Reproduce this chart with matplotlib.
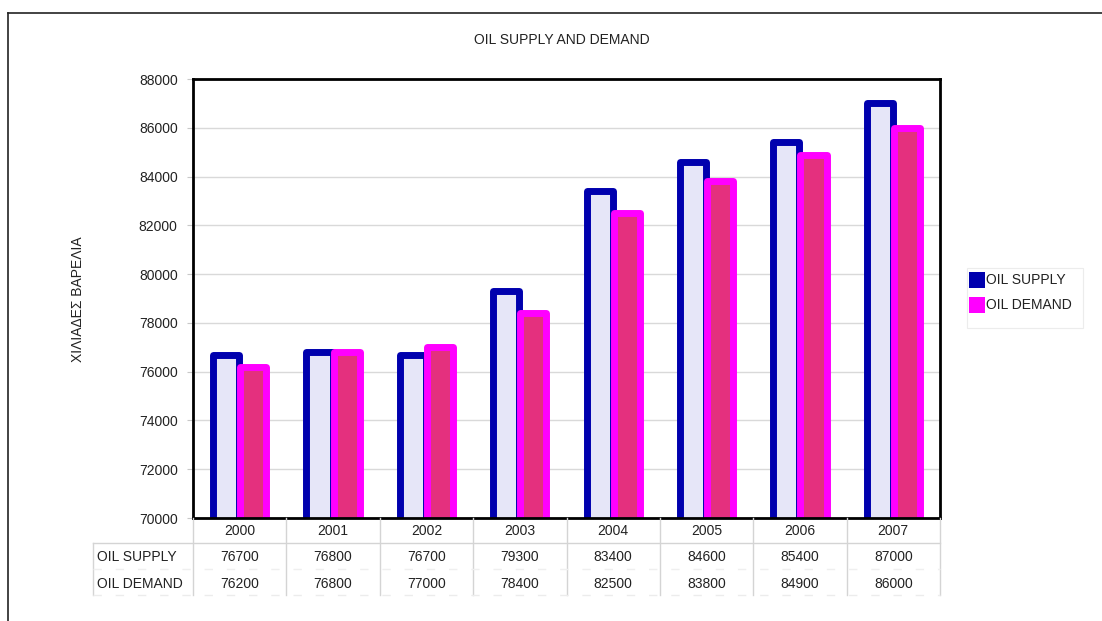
import matplotlib
matplotlib.use("Agg")
import matplotlib.pyplot as plt
from matplotlib.patches import Rectangle
from matplotlib.lines import Line2D

plt.rcParams['font.family'] = ['Liberation Sans', 'DejaVu Sans']

years = ['2000', '2001', '2002', '2003', '2004', '2005', '2006', '2007']
oil_supply = [76700, 76800, 76700, 79300, 83400, 84600, 85400, 87000]
oil_demand = [76200, 76800, 77000, 78400, 82500, 83800, 84900, 86000]
series_names = ['OIL SUPPLY', 'OIL DEMAND']
y_ticks = list(range(70000, 88001, 2000))

W, H = 1102, 621
fig = plt.figure(figsize=(W / 100, H / 100), dpi=100)


def fx(px):
    return px / W


def fy(py):
    return 1 - py / H


TXT = '#222222'
FS = 10

# plot area in pixel units
L, R, T, B = 193, 940, 79, 518
ax = fig.add_axes([fx(L), fy(B), fx(R - L), (B - T) / H])

x = list(range(len(years)))
bw = 0.28
off = 0.145
ax.bar([i - off for i in x], oil_supply, bottom=0, width=bw,
       facecolor='#E6E6F8', edgecolor='#0000AE', linewidth=5.0,
       joinstyle='round', zorder=3)
ax.bar([i + off for i in x], oil_demand, width=bw,
       facecolor='#E4307E', edgecolor='#FF00FF', linewidth=5.0,
       joinstyle='round', zorder=4)

ax.set_xlim(-0.5, len(years) - 0.5)
ax.set_ylim(70000, 88000)
ax.set_yticks(y_ticks)
ax.set_yticklabels([str(v) for v in y_ticks], fontsize=FS, color=TXT)
ax.tick_params(axis='y', length=4, color='#c8c8c8', pad=7)
ax.set_xticks([])
ax.grid(axis='y', color='#d9d9d9', linewidth=1, zorder=0)
ax.set_axisbelow(True)
for s in ax.spines.values():
    s.set_linewidth(2)
    s.set_color('black')
    s.set_zorder(5)

# title and axis label
fig.text(fx(562), fy(40), 'OIL SUPPLY AND DEMAND', ha='center', va='center',
         fontsize=FS, color=TXT)
fig.text(fx(78), fy(299), 'ΧΙΛΙΑΔΕΣ ΒΑΡΕΛΙΑ', ha='center', va='center',
         rotation=90, fontsize=FS, color=TXT)

# data table under the axis
col_w = (R - L) / len(years)
row_year, row_sup, row_dem = 531, 557, 584
tbl_bottom = 595
grid_c = '#d4d4d4'

def hline(y, x0, x1, **kw):
    fig.add_artist(Line2D([fx(x0), fx(x1)], [fy(y), fy(y)], **kw))


def vline(xp, y0, y1, **kw):
    fig.add_artist(Line2D([fx(xp), fx(xp)], [fy(y0), fy(y1)], **kw))


for k in range(len(years) + 1):
    vline(L + k * col_w, B, tbl_bottom, color=grid_c, linewidth=1)
vline(93, 543, tbl_bottom, color=grid_c, linewidth=1)
hline(543, 93, R, color=grid_c, linewidth=1)
hline(569, 93, R, color='#efefef', linewidth=1, linestyle=(0, (6, 10)))
hline(tbl_bottom, 93, R, color='#ececec', linewidth=1, linestyle=(0, (6, 10)))

for i, yr in enumerate(years):
    cx = L + (i + 0.5) * col_w
    fig.text(fx(cx), fy(row_year), yr, ha='center', va='center',
             fontsize=FS, color=TXT)
    fig.text(fx(cx), fy(row_sup), str(oil_supply[i]), ha='center',
             va='center', fontsize=FS, color=TXT)
    fig.text(fx(cx), fy(row_dem), str(oil_demand[i]), ha='center',
             va='center', fontsize=FS, color=TXT)
fig.text(fx(97), fy(row_sup), series_names[0], ha='left', va='center',
         fontsize=FS, color=TXT)
fig.text(fx(97), fy(row_dem), series_names[1], ha='left', va='center',
         fontsize=FS, color=TXT)

# legend
fig.add_artist(Rectangle((fx(967), fy(328)), fx(116), (328 - 268) / H,
                         facecolor='white', edgecolor='#ececec',
                         linewidth=0.8))
for j, (name, col) in enumerate(zip(series_names, ['#0000AE', '#FF00FF'])):
    cy = 280 + 25 * j
    fig.add_artist(Rectangle((fx(969), fy(cy + 8)), fx(16), 16 / H,
                             facecolor=col, edgecolor='none'))
    fig.text(fx(986), fy(cy), name, ha='left', va='center',
             fontsize=FS, color=TXT)

# outer frame
fig.add_artist(Line2D([fx(8), fx(8)], [fy(13), 0], color='#222222',
                      linewidth=1.2))
fig.add_artist(Line2D([fx(8), 1], [fy(13), fy(13)], color='#222222',
                      linewidth=1.2))

fig.savefig('out.png', dpi=100, facecolor='white')
